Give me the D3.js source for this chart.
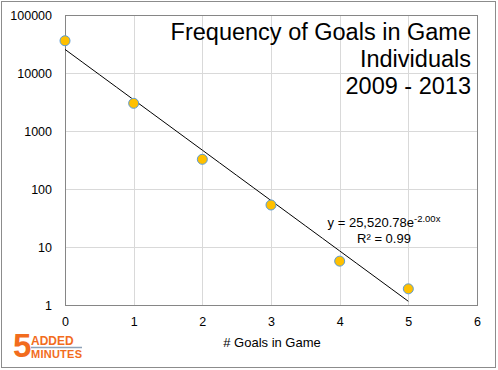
<!DOCTYPE html>
<html>
<head>
<meta charset="utf-8">
<script src="https://cdn.jsdelivr.net/npm/d3@7"></script>
<style>
    body { margin: 0; background: #fff; }
    svg text { font-family: "Liberation Sans", Arial, sans-serif; fill: #000; }
</style>
</head>
<body>
<div id="chart"></div>
<script>
// data
let goals = [0, 1, 2, 3, 4, 5];
let frequency = [36000, 3000, 325, 53, 5.7, 1.9];
let xTicks = [0, 1, 2, 3, 4, 5, 6];
let yTicks = [1, 10, 100, 1000, 10000, 100000];
let titleLines = ["Frequency of Goals in Game", "Individuals", "2009 - 2013"];
// exponential trend y = a * e^(b x)
let trendA = 25520.78;
let trendB = -2.00;
let rSquared = 0.99;

let W = 498, H = 370;
let margin = {top: 15, right: 21, bottom: 65, left: 65};
let width = W - margin.left - margin.right;
let height = H - margin.top - margin.bottom;

let svg = d3.select("#chart").append("svg")
    .attr("width", W)
    .attr("height", H);

// outer chart border
svg.append("rect")
    .attr("x", 1.5).attr("y", 1.5)
    .attr("width", W - 4).attr("height", H - 4)
    .attr("fill", "#fff")
    .attr("stroke", "#8c8c8c");

let g = svg.append("g")
    .attr("transform", "translate(" + margin.left + "," + margin.top + ")");

let x = d3.scaleLinear().domain([0, 6]).range([0, width]);
let y = d3.scaleLog().domain([1, 100000]).range([height, 0]);

// gridlines
g.selectAll(".vgrid").data(xTicks).enter().append("line")
    .attr("class", "vgrid")
    .attr("x1", d => Math.round(x(d)) + 0.5).attr("x2", d => Math.round(x(d)) + 0.5)
    .attr("y1", 0).attr("y2", height)
    .attr("stroke", "#d9d9d9");
g.selectAll(".hgrid").data(yTicks).enter().append("line")
    .attr("class", "hgrid")
    .attr("x1", 0).attr("x2", width)
    .attr("y1", d => Math.round(y(d)) + 0.5).attr("y2", d => Math.round(y(d)) + 0.5)
    .attr("stroke", "#d9d9d9");

// plot border
g.append("rect")
    .attr("x", 0.5).attr("y", 0.5)
    .attr("width", width).attr("height", height)
    .attr("fill", "none")
    .attr("stroke", "#868686");

// axes (labels only)
let xAxis = d3.axisBottom(x).tickValues(xTicks).tickSize(0).tickPadding(12).tickFormat(d => d);
let yAxis = d3.axisLeft(y).tickValues(yTicks).tickSize(0).tickPadding(13).tickFormat(d => d);

g.append("g")
    .attr("class", "x-axis")
    .attr("transform", "translate(0," + height + ")")
    .call(xAxis)
    .call(a => a.select(".domain").remove())
    .selectAll("text").style("font-size", "12.5px");

g.append("g")
    .attr("class", "y-axis")
    .call(yAxis)
    .call(a => a.select(".domain").remove())
    .selectAll("text").style("font-size", "12.5px");

// trendline
let trendX = d3.range(0, 5.001, 0.25);
let line = d3.line()
    .x(d => x(d))
    .y(d => y(trendA * Math.exp(trendB * d)));
g.append("path")
    .datum(trendX)
    .attr("d", line)
    .attr("fill", "none")
    .attr("stroke", "#000")
    .attr("stroke-width", 1);

// points
g.selectAll(".dot").data(goals).enter().append("circle")
    .attr("class", "dot")
    .attr("cx", (d, i) => x(d))
    .attr("cy", (d, i) => y(frequency[i]))
    .attr("r", 5)
    .attr("fill", "#ffc000")
    .attr("stroke", "#5b9bd5")
    .attr("stroke-width", 1);

// title
let title = svg.append("text")
    .attr("text-anchor", "end")
    .style("font-size", "23.5px");
titleLines.forEach(function(t, i) {
    title.append("tspan")
        .attr("x", 471)
        .attr("y", 40 + i * 27)
        .text(t);
});

// trend equation
let eq = svg.append("text")
    .attr("x", 384).attr("y", 227)
    .attr("text-anchor", "middle")
    .style("font-size", "13px");
eq.append("tspan").text("y = " + d3.format(",.2f")(trendA) + "e");
eq.append("tspan").attr("dy", -5).style("font-size", "9.5px").text(trendB.toFixed(2) + "x");
svg.append("text")
    .attr("x", 384).attr("y", 243)
    .attr("text-anchor", "middle")
    .style("font-size", "13px")
    .text("R\u00b2 = " + rSquared.toFixed(2));

// x axis title
svg.append("text")
    .attr("x", 272)
    .attr("y", 347)
    .attr("text-anchor", "middle")
    .style("font-size", "13px")
    .text("# Goals in Game");

// logo
let logo = svg.append("g");
logo.append("text")
    .attr("x", 13).attr("y", 357)
    .style("font-size", "33px").style("font-weight", "bold")
    .style("fill", "#f26c1d")
    .text("5");
logo.append("text")
    .attr("x", 31).attr("y", 345)
    .style("font-size", "12px").style("font-weight", "bold")
    .style("fill", "#f26c1d")
    .text("ADDED");
logo.append("line")
    .attr("x1", 31).attr("x2", 82)
    .attr("y1", 347.5).attr("y2", 347.5)
    .attr("stroke", "#8ea2b8").attr("stroke-width", 1.5);
logo.append("text")
    .attr("x", 31).attr("y", 358)
    .style("font-size", "11px").style("font-weight", "bold")
    .style("fill", "#f26c1d")
    .attr("textLength", 51)
    .text("MINUTES");
</script>
</body>
</html>
